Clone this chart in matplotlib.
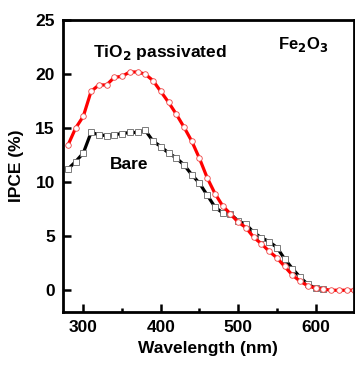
import numpy as np
import matplotlib.pyplot as plt
from matplotlib.ticker import MultipleLocator

plt.rcParams['font.family'] = ['Liberation Sans', 'DejaVu Sans']
plt.rcParams['font.weight'] = 'bold'

# IPCE data
wl_tio2 = np.arange(280, 651, 10)
ipce_tio2 = [13.4, 15.0, 16.1, 18.4, 19.0, 19.0, 19.7, 19.8, 20.2, 20.2,
             20.0, 19.4, 18.4, 17.4, 16.3, 15.1, 13.8, 12.2, 10.4, 8.95,
             7.8, 7.06, 6.3, 5.8, 4.9, 4.3, 3.6, 3.0, 2.2, 1.4,
             0.83, 0.4, 0.2, 0.1, 0.0, 0.0, 0.0, 0.0]

wl_bare = np.arange(280, 611, 10)
ipce_bare = [11.2, 11.9, 12.7, 14.6, 14.4, 14.3, 14.4, 14.5, 14.6, 14.6,
             14.8, 13.8, 13.3, 12.7, 12.25, 11.6, 10.7, 9.9, 8.8, 7.7,
             7.15, 7.06, 6.4, 6.1, 5.35, 4.85, 4.5, 3.95, 2.9, 2.0,
             1.2, 0.53, 0.2, 0.1]

fig = plt.figure(figsize=(3.55, 3.66), dpi=100)
ax = fig.add_axes([0.178, 0.148, 0.818, 0.797])

ax.plot(wl_bare, ipce_bare, color='black', lw=2.3,
        marker='s', ms=3.8, mfc='white', mec='#666666', mew=0.6)
ax.plot(wl_tio2, ipce_tio2, color='red', lw=2.3,
        marker='o', ms=4.0, mfc='white', mec='#ee4444', mew=0.6)

ax.set_xlim(274, 649)
ax.set_ylim(-2, 25)
ax.xaxis.set_major_locator(MultipleLocator(100))
ax.xaxis.set_minor_locator(MultipleLocator(50))
ax.yaxis.set_major_locator(MultipleLocator(5))
ax.tick_params(which='both', direction='in', labelsize=12.5, width=1.8)
ax.tick_params(which='major', length=6, pad=6)
ax.tick_params(which='minor', length=3)
ax.tick_params(axis='y', which='both', left=True, right=False)
ax.tick_params(axis='x', which='both', top=False)
for s in ax.spines.values():
    s.set_linewidth(2)

ax.set_xlabel('Wavelength (nm)', fontsize=12.5, fontweight='bold', labelpad=4)
ax.set_ylabel('IPCE (%)', fontsize=12.5, fontweight='bold', labelpad=8)

ax.text(313, 21.6, 'TiO$_\\mathbf{2}$ passivated', fontsize=12.5, fontweight='bold')
ax.text(334, 11.2, 'Bare', fontsize=12.5, fontweight='bold')
ax.text(551, 22.3, 'Fe$_\\mathbf{2}$O$_\\mathbf{3}$', fontsize=12, fontweight='bold')

fig.savefig('out.png', dpi=100)
